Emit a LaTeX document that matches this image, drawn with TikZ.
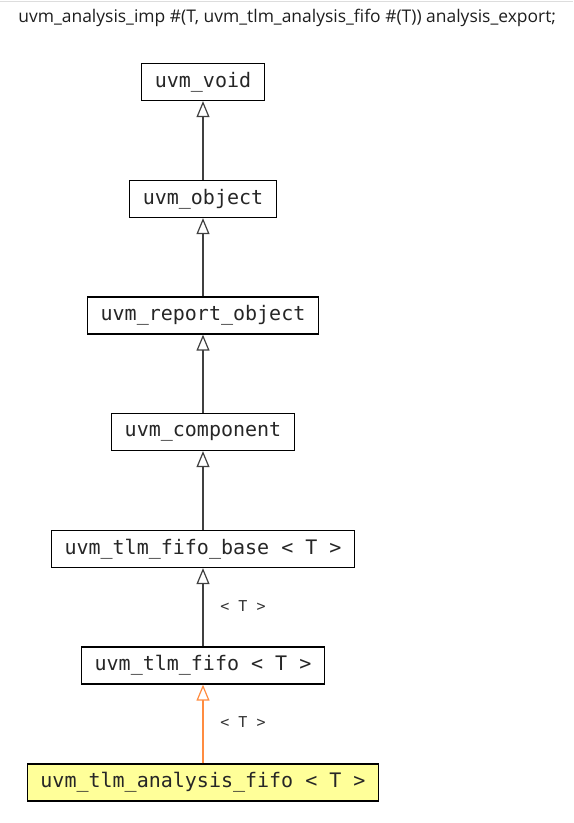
\documentclass[tikz,border=0pt]{standalone}
\usepackage{fontspec}
\setmainfont{Open Sans}
\newfontfamily\boxfont{DejaVu Sans Mono}
\usepackage{tikz}
\usetikzlibrary{arrows.meta}
\definecolor{figY}{RGB}{255,255,153}
\definecolor{figO}{RGB}{255,140,64}
\definecolor{figT}{RGB}{30,30,30}
\definecolor{figL}{RGB}{221,221,221}
\tikzset{cls/.style={draw=black, line width=0.65pt, font=\boxfont\fontsize{10}{12}\selectfont,
  inner xsep=6.5pt, minimum height=18.5pt, text=black!85},
  inh/.style={line width=0.6pt, draw=black!75, -{Triangle[open, length=8pt, width=6.5pt]}},
  tlab/.style={font=\boxfont\fontsize{7.5}{9}\selectfont, text=black!80}}

\begin{document}
\begin{tikzpicture}[x=0.5pt, y=-0.5pt]
\useasboundingbox (0,0) rectangle (573,823);
% page rule and declaration line
\draw[figL, line width=0.5pt] (0,1.5) -- (573,1.5);
\node[anchor=base west, inner sep=0pt, text=figT, font=\fontsize{8.72}{11}\selectfont] (decl) at (18,23)
  {uvm\_analysis\_imp \#(T, uvm\_tlm\_analysis\_fifo \#(T)) analysis\_export;};
% class chain, top to bottom
\node[cls] (void) at (203,82) {uvm\_void};
\node[cls] (obj) at (203,199) {uvm\_object};
\node[cls] (rep) at (203,315.5) {uvm\_report\_object};
\node[cls] (comp) at (203,432) {uvm\_component};
\node[cls] (fbase) at (203,549) {uvm\_tlm\_fifo\_base < T >};
\node[cls] (fifo) at (203,665.5) {uvm\_tlm\_fifo < T >};
\node[cls, fill=figY] (afifo) at (203,782.5) {uvm\_tlm\_analysis\_fifo < T >};
% inheritance edges
\draw[inh] (obj) -- (void);
\draw[inh] (rep) -- (obj);
\draw[inh] (comp) -- (rep);
\draw[inh] (fbase) -- (comp);
\draw[inh] (fifo) -- (fbase);
\draw[inh, draw=figO] (afifo) -- (fifo);
\node[tlab] (t1) at (243,606) {< T >};
\node[tlab] (t2) at (243,722) {< T >};
\end{tikzpicture}
\end{document}
